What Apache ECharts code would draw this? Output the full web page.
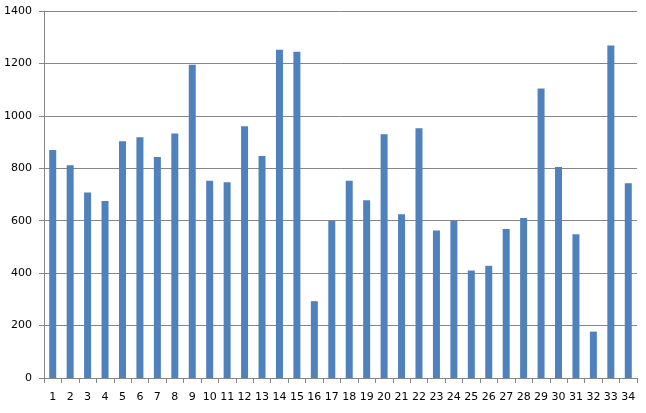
<!DOCTYPE html>
<html><head><meta charset="utf-8">
<script src="https://cdn.jsdelivr.net/npm/echarts@6/dist/echarts.min.js"></script>
<style>html,body{margin:0;padding:0;background:#fff}#c{width:646px;height:413px}</style>
</head><body><div id="c"></div>
<script>
const categories = ['1','2','3','4','5','6','7','8','9','10','11','12','13','14','15','16','17','18','19','20','21','22','23','24','25','26','27','28','29','30','31','32','33','34'];
const values = [870, 812, 708, 675, 903, 918, 843, 933, 1195, 752, 747, 960, 847, 1252, 1245, 293, 600, 752, 678, 930, 625, 953, 563, 600, 410, 428, 568, 610, 1104, 805, 548, 177, 1268, 743];
const yTicks = [0, 200, 400, 600, 800, 1000, 1200, 1400];

const chart = echarts.init(document.getElementById('c'), null, {renderer: 'canvas'});
chart.setOption({
  animation: false,
  grid: {left: 44, right: 9, top: 11, bottom: 35, containLabel: false},
  xAxis: {
    type: 'category', data: categories,
    axisLine: {lineStyle: {color: '#868686', width: 1}},
    axisTick: {show: true, length: 5, alignWithLabel: false, lineStyle: {color: '#868686'}},
    axisLabel: {color: '#000', fontFamily: 'DejaVu Sans', fontSize: 11, margin: 14, interval: 0}
  },
  yAxis: {
    type: 'value', min: yTicks[0], max: yTicks[yTicks.length - 1], interval: 200,
    axisLine: {show: true, lineStyle: {color: '#868686'}},
    axisTick: {show: true, length: 5, lineStyle: {color: '#868686'}},
    splitLine: {lineStyle: {color: '#868686', width: 1}},
    axisLabel: {color: '#000', fontFamily: 'DejaVu Sans', fontSize: 11, margin: 12, formatter: v => String(v)}
  },
  series: [{
    type: 'bar', data: values, barWidth: 7,
    itemStyle: {color: '#4f81bd'}
  }]
});
</script></body></html>
